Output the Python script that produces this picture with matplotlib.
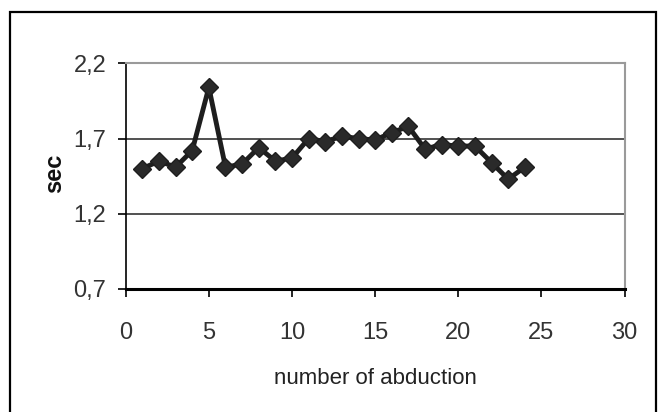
import matplotlib
matplotlib.use("Agg")
import matplotlib.pyplot as plt
from matplotlib.patches import Rectangle
from matplotlib.ticker import FuncFormatter

x_vals = list(range(1, 25))
sec_vals = [1.50, 1.55, 1.51, 1.62, 2.04, 1.51, 1.53, 1.64, 1.55, 1.57,
            1.70, 1.68, 1.715, 1.70, 1.69, 1.74, 1.78, 1.63, 1.66, 1.65,
            1.65, 1.54, 1.43, 1.51]
x_ticks = [0, 5, 10, 15, 20, 25, 30]
y_ticks = [0.7, 1.2, 1.7, 2.2]

W, H = 668, 412
fig = plt.figure(figsize=(W / 100, H / 100), dpi=100)
fig.patch.set_facecolor("white")

# outer frame
fig.patches.append(Rectangle((10 / W, -0.05), (656 - 10) / W, 1.05 - 12 / H,
                             transform=fig.transFigure, fill=False,
                             edgecolor="black", linewidth=1.6))

left, right, top, bottom = 125.7, 624.6, 63.3, 289.0
ax = fig.add_axes([left / W, 1 - bottom / H, (right - left) / W, (bottom - top) / H])

ax.plot(x_vals, sec_vals, color="#1e1e1e", linewidth=3.5, marker="D",
        markersize=9.5, markerfacecolor="#2a2a2a", markeredgecolor="#1e1e1e", zorder=3)

ax.set_xlim(0, 30)
ax.set_ylim(0.7, 2.2)
ax.set_xticks(x_ticks)
ax.set_yticks(y_ticks)
ax.yaxis.set_major_formatter(FuncFormatter(lambda v, p: f"{v:.1f}".replace(".", ",")))
for y in y_ticks[1:3]:
    ax.axhline(y, color="#333333", linewidth=1.2, zorder=1)

ax.spines["left"].set_color("black")
ax.spines["left"].set_linewidth(1.2)
ax.spines["bottom"].set_color("black")
ax.spines["bottom"].set_linewidth(2.2)
ax.spines["top"].set_color("#9a9a9a")
ax.spines["top"].set_linewidth(1.5)
ax.spines["right"].set_color("#9a9a9a")
ax.spines["right"].set_linewidth(1.5)

fam = ["Liberation Sans", "DejaVu Sans"]
ax.tick_params(axis="both", direction="out", length=6, width=1.2, colors="black",
               labelsize=17)
ax.tick_params(axis="y", pad=8)
ax.tick_params(axis="x", pad=18)
for lbl in ax.get_xticklabels() + ax.get_yticklabels():
    lbl.set_family(fam)
    lbl.set_color("#333333")

fig.text(55 / W, 1 - 173 / H, "sec", rotation=90, ha="center", va="center",
         fontsize=17, fontweight="bold", family=fam, color="#111111")
fig.text(375 / W, 1 - 378 / H, "number of abduction", ha="center", va="center",
         fontsize=16, family=fam, color="#222222")

fig.savefig("out.png", dpi=100)
